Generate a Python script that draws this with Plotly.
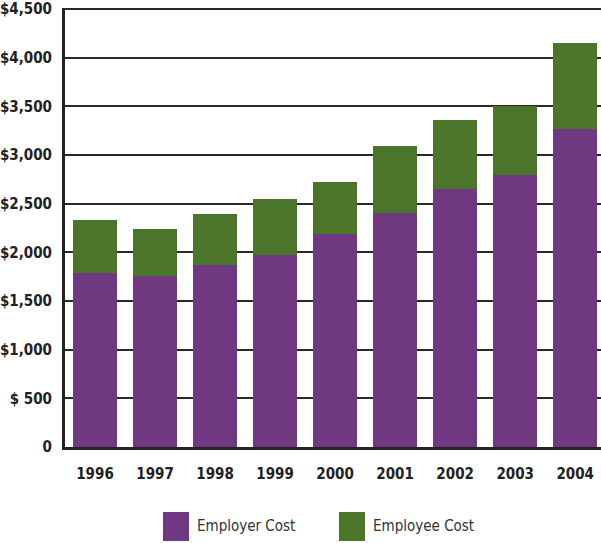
import plotly.graph_objects as go

years = ["1996", "1997", "1998", "1999", "2000", "2001", "2002", "2003", "2004"]
employer_cost = [1790, 1760, 1872, 1975, 2194, 2407, 2654, 2798, 3271]
employee_cost = [545, 483, 525, 576, 532, 690, 710, 710, 885]
y_ticks = [0, 500, 1000, 1500, 2000, 2500, 3000, 3500, 4000, 4500]
y_tick_labels = ["0", "$ 500", "$1,000", "$1,500", "$2,000", "$2,500",
                 "$3,000", "$3,500", "$4,000", "$4,500"]

PURPLE = "#713882"
GREEN = "#4a752a"
FONT = "DejaVu Sans Condensed, DejaVu Sans, sans-serif"

Y_MAX = 4512
PLOT_TOP = 8
PLOT_BOTTOM = 447
PLOT_H = PLOT_BOTTOM - PLOT_TOP

fig = go.Figure()
fig.add_trace(go.Bar(x=years, y=employer_cost, name="Employer Cost",
                     marker=dict(color=PURPLE, line=dict(width=0))))
fig.add_trace(go.Bar(x=years, y=employee_cost, name="Employee Cost",
                     marker=dict(color=GREEN, line=dict(width=0))))

tick_font = dict(family=FONT, size=15, color="#222222", weight="bold")

fig.update_layout(
    barmode="stack",
    bargap=0.267,
    width=601, height=543,
    margin=dict(l=65, r=0, t=PLOT_TOP, b=543 - PLOT_BOTTOM),
    plot_bgcolor="white", paper_bgcolor="white",
    showlegend=False,
    font=dict(family=FONT, color="#222222"),
    xaxis=dict(
        type="category",
        range=[-0.5, 8.43],
        showgrid=False,
        showline=True, linecolor="#222222", linewidth=3,
        ticks="", ticklabelstandoff=11,
        tickfont=tick_font,
    ),
    yaxis=dict(
        range=[0, Y_MAX],
        tickvals=y_ticks, ticktext=y_tick_labels,
        showgrid=True, gridcolor="#2a2a2a", gridwidth=2,
        zeroline=False,
        showline=True, linecolor="#222222", linewidth=3,
        ticks="", ticklabelstandoff=7,
        ticklabeloverflow="allow",
        tickfont=tick_font,
    ),
)

# Legend drawn as square swatches with labels under the plot
legend_items = [("Employer Cost", PURPLE, 163), ("Employee Cost", GREEN, 339)]
for label, color, x0 in legend_items:
    fig.add_shape(type="rect", xref="paper", yref="paper",
                  x0=(x0 - 65) / 536, x1=(x0 + 26 - 65) / 536,
                  y0=(PLOT_BOTTOM - 541) / PLOT_H, y1=(PLOT_BOTTOM - 512) / PLOT_H,
                  fillcolor=color, line=dict(width=0))
    fig.add_annotation(text=label, xref="paper", yref="paper",
                       x=(x0 + 32 - 65) / 536, y=(PLOT_BOTTOM - 526) / PLOT_H,
                       xanchor="left", yanchor="middle", showarrow=False,
                       font=dict(family=FONT, size=15, color="#333333"))

fig.write_html("out.html")
